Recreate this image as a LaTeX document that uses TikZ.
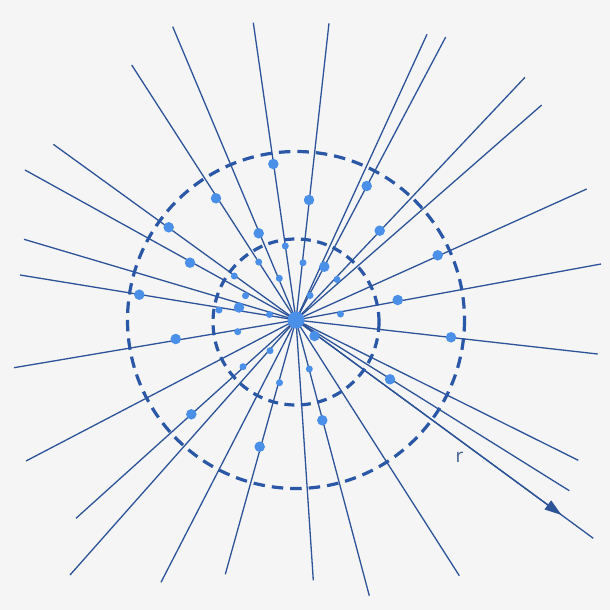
\documentclass[tikz,border=0pt]{standalone}
\usepackage{fontspec}
\setmainfont{Open Sans}
\usetikzlibrary{arrows.meta,calc}
\definecolor{bg}{HTML}{F5F5F5}
\definecolor{ray}{HTML}{2D5398}
\definecolor{ring}{HTML}{2A58A6}
\definecolor{dot}{HTML}{4A8FE8}
\definecolor{lbl}{HTML}{3F5E8C}
\tikzset{
  raystyle/.style={draw=ray, line width=1.3pt},
  ringstyle/.style={draw=ring, line width=3.2pt, dash pattern=on 11.5pt off 7pt},
  ringinner/.style={draw=ring, line width=3.2pt, dash pattern=on 10pt off 6.5pt},
  bigdot/.style={fill=dot, circle, inner sep=0pt, minimum size=10.5pt},
  smalldot/.style={fill=dot, circle, inner sep=0pt, minimum size=7pt},
  hub/.style={fill=dot, circle, inner sep=0pt, minimum size=17pt},
}
\begin{document}
\begin{tikzpicture}[x=1pt,y=-1pt]
\fill[bg] (0,0) rectangle (610,610);
\useasboundingbox (0,0) rectangle (610,610);
\coordinate (c) at (296,320);
% rays
\foreach \x/\y [count=\i] in {131.7/65, 172.7/26.7, 253.3/22.7, 53.3/144.3, 25/170, 24/239.3, 20/275,
  329/23.3, 427/34.3, 445.7/37, 525/77.3, 541.7/105, 586.7/189, 601/264,
  14/367.7, 26/461, 76/518.3, 70/575, 161/582.3, 225.3/574.3,
  597.7/354, 578.3/460.3, 569.3/490.7, 459.3/575.7, 369.3/595.7, 313.3/580.3}{
  \coordinate (e\i) at (\x,\y);
  \draw[raystyle] (c) -- (e\i);
}
% arrow ray
\coordinate (aend) at (593.3,538.3);
\coordinate (atip) at ($(c)!0.893!(aend)$);
\draw[raystyle] (c) -- (aend);
\draw[raystyle, -{Triangle[length=17pt,width=11pt]}] (c) -- (atip);
% rings
\draw[ringstyle] (c) circle[radius=168.5];
\draw[ringinner] (296,322) circle[radius=83];
% dots
\foreach \x/\y [count=\i] in {273.3/164, 216/198.3, 258.7/233.3, 168.7/227.3, 190/262.7, 139.3/294.7,
  309/200, 366.7/186, 379.7/230.7, 437.7/255.3, 397.7/300, 324.3/266.7,
  175.7/339, 191.3/414.3, 259.7/446.7, 239/307.5, 314.5/336, 451/337.3, 390/379.3, 322.3/420.3}{
  \node[bigdot] (b\i) at (\x,\y) {};
}
\foreach \x/\y [count=\i] in {285.3/246, 258.7/262, 234.3/276, 279.3/278.3, 245.5/295.7, 303/262.7,
  337/279.5, 310/295.5, 237.7/331.7, 243/366.7, 270/350.7, 279.5/382.7, 219/310,
  269.5/314.5, 340.5/314, 309.3/369}{
  \node[smalldot] (s\i) at (\x,\y) {};
}
\node[hub] (hub) at (c) {};
\node[text=lbl, font=\fontsize{19}{19}\selectfont, inner sep=0pt, anchor=base] (r) at (459.5,462) {r};
\end{tikzpicture}
\end{document}
